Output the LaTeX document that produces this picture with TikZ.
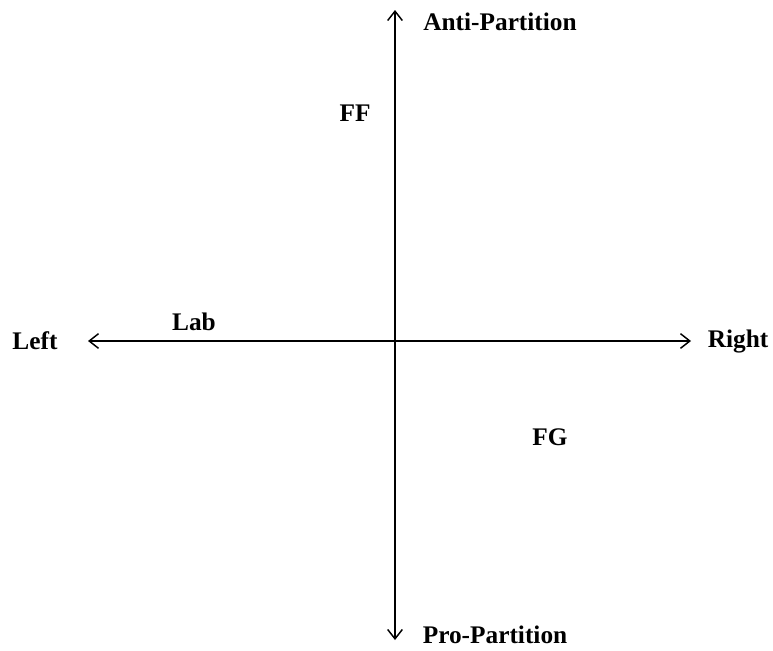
\documentclass[tikz,border=0pt]{standalone}
\usepackage{fontspec}
\setmainfont{Liberation Serif}
\usetikzlibrary{arrows.meta,positioning}

\begin{document}
\begin{tikzpicture}[
  x=0.75pt,y=-0.75pt,
  >={Straight Barb[length=7pt,width=11pt]},
  axis/.style={<->,line width=1.1pt},
  axlabel/.style={font=\fontsize{19}{22}\selectfont\bfseries,inner sep=0pt},
  party/.style={font=\fontsize{19}{22}\selectfont\bfseries,inner sep=0pt},
]

\useasboundingbox (0,0) rectangle (773,650);

%% ── Axis ends ────────────────────────────────────────────────────────────
\coordinate (top)    at (395,10);
\coordinate (bottom) at (395,640);
\coordinate (west)   at (88,341);
\coordinate (east)   at (691,341);

%% ── Axes ─────────────────────────────────────────────────────────────────
\draw[axis] (bottom) -- (top);
\draw[axis] (west) -- (east);

%% ── Axis labels ──────────────────────────────────────────────────────────
\node[axlabel] (anti)  at (500,22)  {Anti-Partition};
\node[axlabel] (pro)   at (495,635) {Pro-Partition};
\node[axlabel] (left)  at (35,341)  {Left};
\node[axlabel] (right) at (738,341) {Right};

%% ── Parties ──────────────────────────────────────────────────────────────
\node[party] (FF)  at (355,113) {FF};
\node[party] (Lab) at (194,322) {Lab};
\node[party] (FG)  at (550,437) {FG};

\end{tikzpicture}
\end{document}
